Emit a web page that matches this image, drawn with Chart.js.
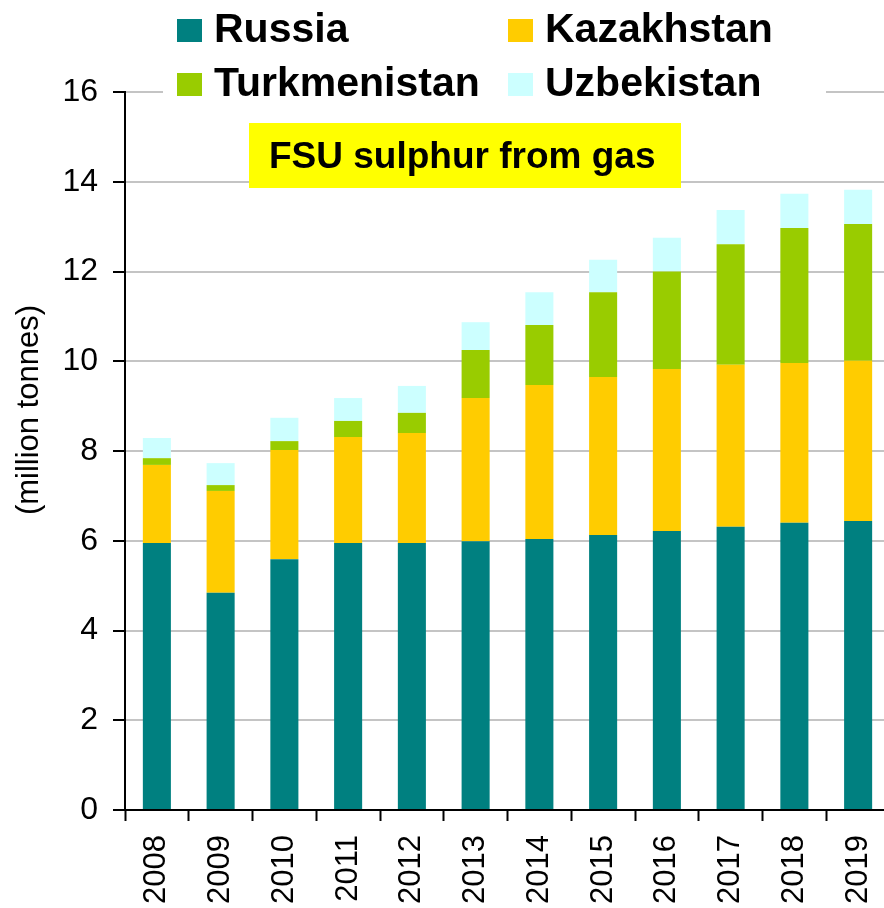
<!DOCTYPE html>
<html>
<head>
<meta charset="utf-8">
<title>FSU sulphur from gas</title>
<script src="https://cdn.jsdelivr.net/npm/chart.js@4.4.1/dist/chart.umd.min.js"></script>
<style>
  html, body { margin: 0; padding: 0; background: #fff; overflow: hidden; }
  #wrap { position: absolute; left: 0; top: 0; width: 892px; height: 908px; }
</style>
</head>
<body>
<div id="wrap"><canvas id="fsuChart" width="892" height="908"></canvas></div>
<script>
// DATA (million tonnes)
let years = ['2008', '2009', '2010', '2011', '2012', '2013', '2014', '2015', '2016', '2017', '2018', '2019'];
let russia = [5.95, 4.84, 5.59, 5.95, 5.95, 5.99, 6.04, 6.13, 6.22, 6.31, 6.40, 6.44];
let kazakhstan = [1.74, 2.27, 2.43, 2.36, 2.45, 3.19, 3.43, 3.52, 3.61, 3.61, 3.56, 3.57];
let turkmenistan = [0.15, 0.13, 0.20, 0.36, 0.45, 1.07, 1.34, 1.89, 2.17, 2.69, 3.01, 3.05];
let uzbekistan = [0.45, 0.49, 0.52, 0.51, 0.60, 0.62, 0.73, 0.72, 0.75, 0.76, 0.76, 0.76];
let yTicks = [0, 2, 4, 6, 8, 10, 12, 14, 16];

let chartTitle = 'FSU sulphur from gas';
let yTitle = '(million tonnes)';
let font = '"Liberation Sans", Arial, sans-serif';

// LEGEND, TITLE BOX AND AXIS TITLE DRAWN ON TOP
let overlay = {
	id: 'overlay',
	afterDraw(chart) {
		let ctx = chart.ctx;
		ctx.save();

		// white area behind the legend hides the top gridline
		ctx.fillStyle = '#fff';
		ctx.fillRect(163, 0, 663, 104);

		let spots = [[177, 19], [508, 19], [177, 73], [508, 73]];
		ctx.font = 'bold 41px ' + font;
		ctx.textBaseline = 'alphabetic';
		ctx.textAlign = 'left';
		chart.data.datasets.forEach((ds, i) => {
			let p = spots[i];
			ctx.fillStyle = ds.backgroundColor;
			ctx.fillRect(p[0], p[1], 25, 23);
			ctx.fillStyle = '#000';
			ctx.fillText(ds.label, p[0] + 37, p[1] + 23);
		});

		// yellow title box
		ctx.fillStyle = '#ffff00';
		ctx.fillRect(249, 123, 432, 65);
		ctx.fillStyle = '#000';
		ctx.font = 'bold 37px ' + font;
		ctx.fillText(chartTitle, 269, 168);

		// y axis title
		ctx.translate(29, 410);
		ctx.rotate(-Math.PI / 2);
		ctx.textAlign = 'center';
		ctx.textBaseline = 'middle';
		ctx.font = '31px ' + font;
		ctx.fillText(yTitle, 0, 0);
		ctx.restore();
	}
};

let fsuCtx = document.getElementById('fsuChart').getContext('2d');

let fsuChart = new Chart(fsuCtx, {
	type: 'bar',
	data: {
		labels: years,
		datasets: [
			{ label: 'Russia', data: russia, backgroundColor: '#008080' },
			{ label: 'Kazakhstan', data: kazakhstan, backgroundColor: '#ffcc00' },
			{ label: 'Turkmenistan', data: turkmenistan, backgroundColor: '#99cc00' },
			{ label: 'Uzbekistan', data: uzbekistan, backgroundColor: '#ccffff' }
		]
	},
	options: {
		responsive: false,
		animation: false,
		layout: { padding: { top: 92, right: 2, left: 0, bottom: 0 } },
		datasets: {
			bar: { barPercentage: 0.44, categoryPercentage: 1, borderWidth: 0 }
		},
		plugins: {
			legend: { display: false },
			title: { display: false },
			tooltip: { enabled: false }
		},
		scales: {
			x: {
				stacked: true,
				grid: {
					offset: true,
					drawOnChartArea: false,
					drawTicks: true,
					tickLength: 11,
					tickColor: '#000',
					tickWidth: 2
				},
				border: { color: '#000', width: 2 },
				ticks: {
					minRotation: 90,
					maxRotation: 90,
					padding: 14,
					color: '#000',
					font: { family: font, size: 31 }
				},
				afterFit: (s) => {
					s.height = 98;
					s.paddingLeft = 0;
					s.paddingRight = 0;
				}
			},
			y: {
				stacked: true,
				min: 0,
				max: 16,
				afterBuildTicks: (s) => {
					s.ticks = yTicks.map(v => ({ value: v }));
				},
				grid: {
					color: '#c4c4c4',
					lineWidth: 2,
					tickColor: '#000',
					tickWidth: 2,
					tickLength: 12
				},
				border: { color: '#000', width: 2 },
				ticks: {
					padding: 15,
					color: '#000',
					font: { family: font, size: 32 }
				},
				afterFit: (s) => {
					s.width = 125;
				}
			}
		}
	},
	plugins: [overlay]
});
</script>
</body>
</html>
